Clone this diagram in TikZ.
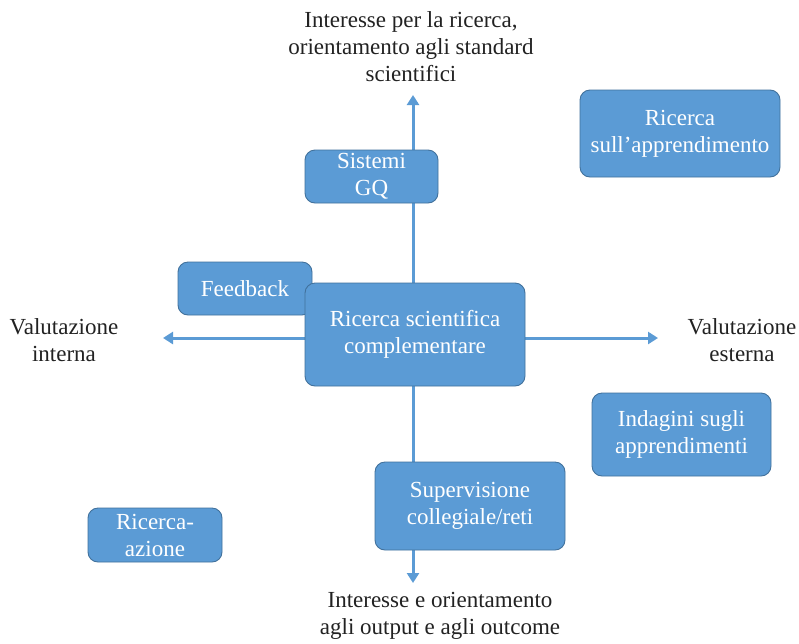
\documentclass[tikz,border=0pt]{standalone}
\usepackage{fontspec}
\setmainfont{Liberation Serif}
\usetikzlibrary{arrows.meta}
\definecolor{boxfill}{HTML}{5B9BD5}
\definecolor{boxline}{HTML}{41719C}
\definecolor{axiscol}{HTML}{5B9BD5}
\definecolor{labelcol}{HTML}{222222}
\tikzset{
  card/.style={draw=boxline, line width=0.9pt, fill=boxfill, rounded corners=10pt,
    text=white, align=center, inner sep=0pt,
    font=\fontsize{23}{27}\selectfont},
  axis/.style={draw=axiscol, line width=3pt,
    -{Triangle[width=12pt,length=10pt]}},
  pole/.style={text=labelcol, align=center, inner sep=0pt,
    font=\fontsize{23}{27}\selectfont}
}
\begin{document}
\begin{tikzpicture}[x=1pt,y=-1pt]
\useasboundingbox[fill=white] (0,0) rectangle (799,643);

% axes, drawn first so the cards sit on top
\coordinate (o) at (413,338);
\coordinate (top) at (413,95);
\coordinate (bottom) at (413,583);
\coordinate (left) at (163,338);
\coordinate (right) at (658,338);
\draw[axis] (o) -- (top);
\draw[axis] (o) -- (bottom);
\draw[axis] (o) -- (left);
\draw[axis] (o) -- (right);

% pole labels
\node[pole] (ptop) at (411,47) {Interesse per la ricerca,\\orientamento agli standard\\scientifici};
\node[pole] (pbottom) at (440,616) {Interesse e orientamento\\agli output e agli outcome};
\node[pole] (pleft) at (64,340) {Valutazione\\interna};
\node[pole] (pright) at (742,340) {Valutazione\\esterna};

% cards
\node[card, minimum width=134pt, minimum height=53pt] (feedback) at (245,288.5) {Feedback};
\node[card, minimum width=220pt, minimum height=103pt] (core) at (415,334.5) {Ricerca scientifica\\complementare};
\node[card, minimum width=133pt, minimum height=53pt] (gq) at (371.5,176.5) {Sistemi\\GQ};
\node[card, minimum width=200pt, minimum height=87pt] (learn) at (680,133.5) {Ricerca\\sull’apprendimento};
\node[card, minimum width=179pt, minimum height=83pt] (survey) at (681.5,434.5) {Indagini sugli\\apprendimenti};
\node[card, minimum width=190pt, minimum height=88pt] (peer) at (470,506) {Supervisione\\collegiale/reti};
\node[card, minimum width=134pt, minimum height=54pt] (action) at (155,535) {Ricerca-\\azione};
\end{tikzpicture}
\end{document}
